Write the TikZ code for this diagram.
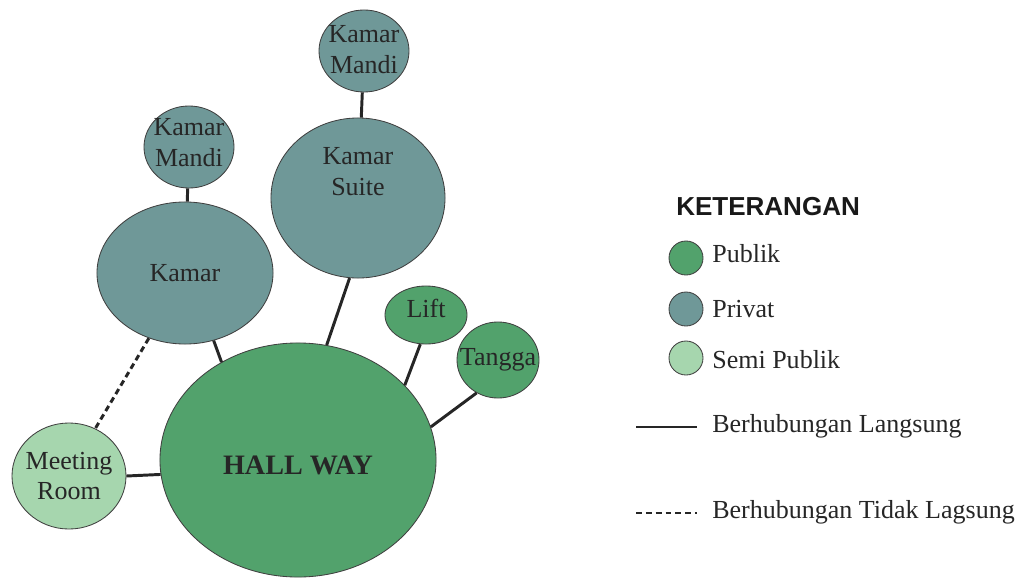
\documentclass[tikz,border=0pt]{standalone}
\usepackage{fontspec}
\setmainfont{Liberation Serif}
\newfontfamily\headfont{Liberation Sans}
\usetikzlibrary{shapes.geometric}

\definecolor{publik}{RGB}{82,162,108}
\definecolor{privat}{RGB}{111,152,152}
\definecolor{semipublik}{RGB}{166,214,174}

\tikzset{
  room/.style={ellipse, draw=black!75, line width=0.6pt, inner sep=0pt},
  roomtext/.style={align=center, font=\fontsize{18.5}{22}\selectfont, text=black!85},
  legtext/.style={anchor=base west, inner sep=0pt, font=\fontsize{18.5}{22}\selectfont, text=black!85},
  link/.style={line width=2.1pt, black!85},
  indirect/.style={link, dash pattern=on 4.2pt off 2.8pt},
}

\begin{document}
\begin{tikzpicture}[x=0.025cm, y=-0.025cm]
\useasboundingbox (0,0) rectangle (1023,578);

% ruang privat
\node[room, fill=privat, minimum width=2.25cm, minimum height=2.05cm,
  label={[roomtext, yshift=1pt]center:Kamar\\Mandi}] (kmsuite) at (364,51) {};
\node[room, fill=privat, minimum width=4.35cm, minimum height=4cm,
  label={[roomtext, yshift=19pt]center:Kamar\\Suite}] (suite) at (358,198) {};
\node[room, fill=privat, minimum width=2.25cm, minimum height=2.05cm,
  label={[roomtext, yshift=3pt]center:Kamar\\Mandi}] (kmkamar) at (189,147) {};
\node[room, fill=privat, minimum width=4.4cm, minimum height=3.55cm,
  label={[roomtext]center:Kamar}] (kamar) at (185,273) {};

% ruang publik
\node[room, fill=publik, minimum width=6.9cm, minimum height=5.85cm,
  label={[roomtext, yshift=-4pt, font=\fontsize{20}{24}\selectfont\bfseries]center:HALL WAY}] (hall) at (298,460) {};
\node[room, fill=publik, minimum width=2.05cm, minimum height=1.45cm,
  label={[roomtext, yshift=5pt]center:Lift}] (lift) at (426,315) {};
\node[room, fill=publik, minimum width=2.05cm, minimum height=1.9cm,
  label={[roomtext]center:Tangga}] (tangga) at (498,360) {};

% ruang semi publik
\node[room, fill=semipublik, minimum width=2.85cm, minimum height=2.65cm,
  label={[roomtext]center:Meeting\\Room}] (meeting) at (69,476) {};

% hubungan
\draw[link] (kmsuite) -- (suite);
\draw[link] (kmkamar) -- (kamar);
\draw[link] (kamar.-67) -- (hall.128);
\draw[link] (suite.-96) -- (hall.76);
\draw[link] (lift.-101) -- (hall.35);
\draw[link] (tangga.-123) -- (hall.14.5);
\draw[link] (meeting.east) -- (hall.186.5);
\draw[indirect] (kamar.-119) -- (meeting.61.6);

% keterangan
\node[anchor=base west, inner sep=0pt, font=\fontsize{18.5}{22}\selectfont\headfont\bfseries, text=black!90] (ket) at (676,215) {KETERANGAN};
\node[room, fill=publik, minimum width=0.85cm, minimum height=0.85cm] (legpub) at (686,258) {};
\node[legtext] (txtpub) at (712,262) {Publik};
\node[room, fill=privat, minimum width=0.85cm, minimum height=0.85cm] (legpriv) at (686,309) {};
\node[legtext] (txtpriv) at (712,317) {Privat};
\node[room, fill=semipublik, minimum width=0.85cm, minimum height=0.85cm] (legsemi) at (686,358) {};
\node[legtext] (txtsemi) at (712,368) {Semi Publik};

\coordinate (langA) at (636,427);
\coordinate (langB) at (697,427);
\draw[link] (langA) -- (langB);
\node[legtext] (txtlang) at (712,432) {Berhubungan Langsung};

\coordinate (tidakA) at (636,513);
\coordinate (tidakB) at (697,513);
\draw[indirect] (tidakA) -- (tidakB);
\node[legtext] (txttidak) at (712,518) {Berhubungan Tidak Lagsung};
\end{tikzpicture}
\end{document}
